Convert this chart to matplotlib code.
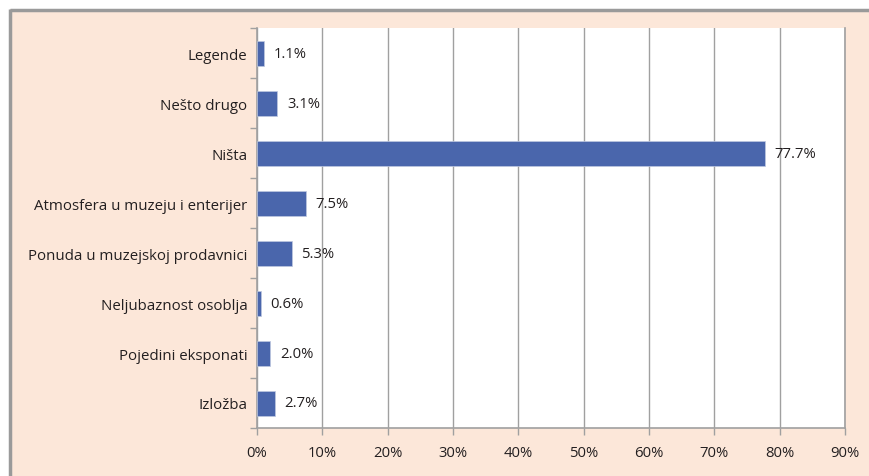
import matplotlib.pyplot as plt
import matplotlib.patches as patches
import numpy as np

plt.rcParams['font.family'] = ['Open Sans', 'DejaVu Sans']

# categories listed bottom to top
categories = ["Izložba", "Pojedini eksponati", "Neljubaznost osoblja",
              "Ponuda u muzejskoj prodavnici", "Atmosfera u muzeju i enterijer",
              "Ništa", "Nešto drugo", "Legende"]
values = [2.7, 2.0, 0.6, 5.3, 7.5, 77.7, 3.1, 1.1]
xticks = [0, 10, 20, 30, 40, 50, 60, 70, 80, 90]

bg = "#FCE7D9"
bar_color = "#4A66AC"
grid_gray = "#A0A0A0"
txt = "#231F20"

fig = plt.figure(figsize=(8.7, 4.77), dpi=100)
fig.patch.set_facecolor("white")

# background axes: peach panel with gray frame on top and left
bgax = fig.add_axes([0, 0, 1, 1], zorder=-5)
bgax.set_xlim(0, 870)
bgax.set_ylim(477, 0)
bgax.axis("off")
bgax.add_patch(patches.Rectangle((10, 10), 870, 477, facecolor=bg, edgecolor="none"))
bgax.plot([10, 10], [10, 477], color="#9A9A9A", lw=2.5, solid_capstyle="butt")
bgax.plot([10, 870], [10.5, 10.5], color="#9A9A9A", lw=2.5, solid_capstyle="butt")

ax = fig.add_axes([257 / 870, 1 - 429 / 477, 588 / 870, 400 / 477])
ax.set_facecolor("white")

y = np.arange(len(categories))
ax.barh(y, values, height=0.5, color=bar_color, edgecolor="#BFC8E0", linewidth=0.5, zorder=3)

for yi, v in zip(y, values):
    ax.text(v + 1.5, yi, f"{v:.1f}%", va="center", ha="left", fontsize=10.7, color=txt, zorder=4)

ax.set_xlim(0, 90)
ax.set_ylim(-0.5, len(categories) - 0.5)
ax.set_xticks(xticks)
ax.set_xticklabels([f"{t}%" for t in xticks], fontsize=10.7, color=txt)
ax.set_yticks(y)
ax.set_yticklabels(categories, fontsize=10.8, color=txt)
ax.set_yticks(np.arange(-0.5, len(categories), 1), minor=True)
ax.tick_params(axis="y", which="major", length=0, pad=7)
ax.tick_params(axis="y", which="minor", length=5, color=grid_gray, width=1)
ax.tick_params(axis="x", length=5, color=grid_gray, width=1, pad=7.5)

ax.grid(axis="x", color=grid_gray, lw=1, zorder=1)
ax.spines["top"].set_visible(False)
for side in ["left", "bottom", "right"]:
    ax.spines[side].set_color(grid_gray)
    ax.spines[side].set_linewidth(1.2)

fig.savefig("out.png", dpi=100, facecolor=fig.get_facecolor())
